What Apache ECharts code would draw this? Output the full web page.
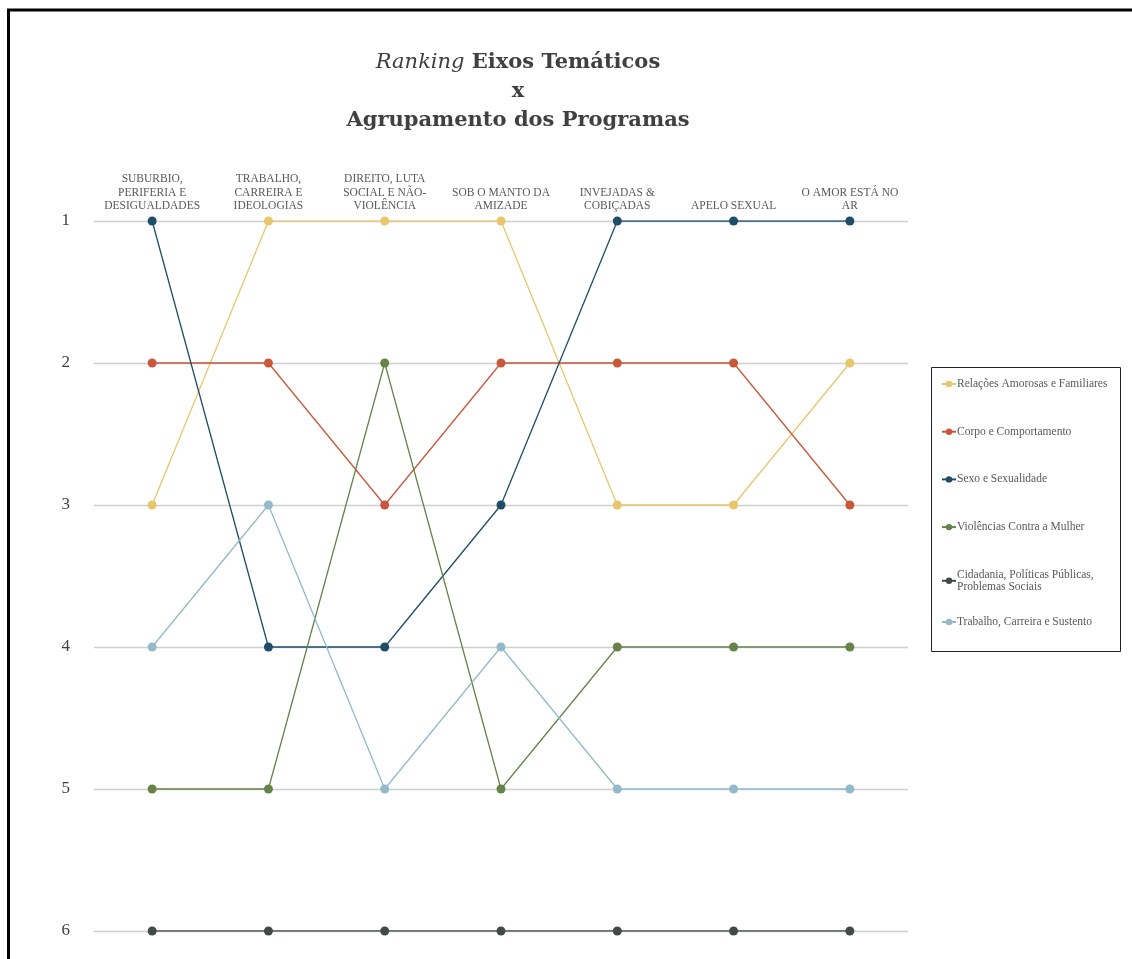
<!DOCTYPE html>
<html><head><meta charset="utf-8">
<script src="https://cdn.jsdelivr.net/npm/echarts@6/dist/echarts.min.js"></script>
<style>html,body{margin:0;padding:0;background:#fff;overflow:hidden}#c{width:1132px;height:959px}</style>
</head><body><div id="c"></div>
<script>
const categories = ["SUBURBIO,\nPERIFERIA E\nDESIGUALDADES","TRABALHO,\nCARREIRA E\nIDEOLOGIAS","DIREITO, LUTA\nSOCIAL E NÃO-\nVIOLÊNCIA","SOB O MANTO DA\nAMIZADE","INVEJADAS &\nCOBIÇADAS","APELO SEXUAL","O AMOR ESTÁ NO\nAR"];
const seriesNames = ["Relações Amorosas e Familiares","Corpo e Comportamento","Sexo e Sexualidade","Violências Contra a Mulher","Cidadania, Políticas Públicas, Problemas Sociais","Trabalho, Carreira e Sustento"];
const relacoes = [3,1,1,1,3,3,2];
const corpo = [2,2,3,2,2,2,3];
const sexo = [1,4,4,3,1,1,1];
const violencias = [5,5,2,5,4,4,4];
const cidadania = [6,6,6,6,6,6,6];
const trabalho = [4,3,5,4,5,5,5];
const yTicks = [1,2,3,4,5,6];
const colors = ["#E8C66C","#C9573A","#1E4D67","#668449","#444848","#94B9CA"];
const values = [relacoes,corpo,sexo,violencias,cidadania,trabalho];
const serif = "Liberation Serif";
const titleFont = "DejaVu Serif";
const legendText = {fontFamily:serif,fontSize:11.5,color:'#595959',padding:[0,0,0,-4],lineHeight:12};
const chart = echarts.init(document.getElementById('c'));
chart.setOption({
  animation:false,
  color:colors,
  graphic:[
    {type:'rect',shape:{x:8.5,y:10,width:1200,height:1000},style:{fill:'none',stroke:'#000',lineWidth:3},silent:true},
    {type:'rect',shape:{x:931.5,y:367.5,width:189,height:284},style:{fill:'none',stroke:'#222',lineWidth:1},silent:true}
  ],
  title:{
    text:'{i|Ranking} Eixos Temáticos\nx\nAgrupamento dos Programas',
    left:513, textAlign:'center', top:43,
    textStyle:{fontFamily:titleFont,fontSize:21,fontWeight:'bold',color:'#404040',lineHeight:29,
      rich:{i:{fontFamily:titleFont,fontSize:21,fontStyle:'italic',fontWeight:'normal',color:'#404040',lineHeight:29}}}
  },
  legend:[
    {orient:'vertical', left:941, top:378, padding:0, itemGap:35.7, itemWidth:14, itemHeight:8,
     textStyle:legendText, formatter:n=> n.replace('Públicas, ','Públicas,\n'),
     data:seriesNames.slice(0,5)},
    {orient:'vertical', left:941, top:616, padding:0, itemGap:34, itemWidth:14, itemHeight:8,
     textStyle:legendText, data:seriesNames.slice(5)}
  ],
  grid:{left:94,right:224,top:221,height:710},
  xAxis:{type:'category',position:'top',data:categories,boundaryGap:true,
    axisLine:{show:false},axisTick:{show:false},
    axisLabel:{interval:0,margin:8,fontFamily:serif,fontSize:11.5,color:'#595959',lineHeight:13.5}},
  yAxis:{type:'value',inverse:true,min:1,max:6,interval:1,
    axisLine:{show:false},axisTick:{show:false},
    axisLabel:{margin:24,fontFamily:serif,fontSize:17,color:'#404040',padding:[3,0,0,0],formatter:v=>yTicks.includes(v)?String(v):''},
    splitLine:{lineStyle:{color:'#D0D0D0',width:1.3}}},
  series:seriesNames.map((n,i)=>({name:n,type:'line',data:values[i],symbol:'circle',symbolSize:9,
    lineStyle:{width:1.3,color:colors[i]},itemStyle:{color:colors[i]}}))
});
</script></body></html>
